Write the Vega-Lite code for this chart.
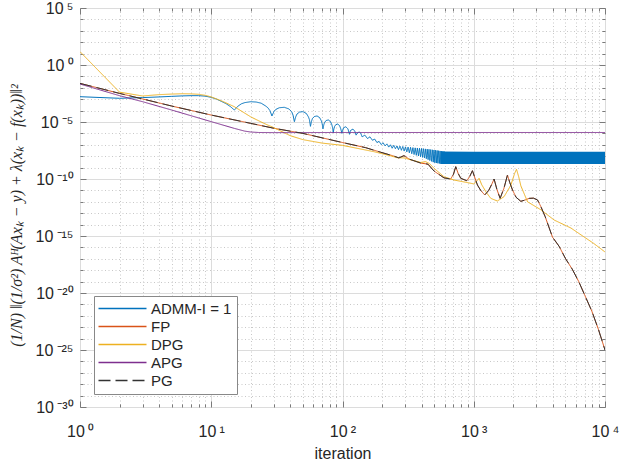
{
  "$schema": "https://vega.github.io/schema/vega-lite/v6.json",
  "width": 525,
  "height": 399,
  "autosize": {"type": "none"},
  "padding": {"left": 80, "top": 8, "right": 15, "bottom": 54},
  "background": "white",
  "config": {
    "font": "Liberation Sans",
    "view": {"stroke": "#7a7a7a", "strokeWidth": 1},
    "axis": {"domain": false, "labelFont": "Liberation Sans", "labelFontSize": 16, "labelColor": "#262626", "titleColor": "#262626", "tickColor": "#7a7a7a"}
  },
  "resolve": {"axis": {"x": "independent", "y": "independent"}},
  "datasets": {
    "band": [
      {"x": 560, "y": 2.6e-8, "lo": 2.1e-9},
      {"x": 1000, "y": 2.51e-8, "lo": 2.09e-9},
      {"x": 10000, "y": 2.51e-8, "lo": 2.09e-9}
    ],
    "lines": [
      {"s":"ADMM","x":1,"y":1.66e-3},{"s":"ADMM","x":2,"y":1.2e-3},{"s":"ADMM","x":3,"y":1.38e-3},{"s":"ADMM","x":4,"y":1.58e-3},
      {"s":"ADMM","x":5,"y":1.78e-3},{"s":"ADMM","x":6,"y":1.95e-3},{"s":"ADMM","x":7,"y":2.04e-3},{"s":"ADMM","x":8,"y":2.04e-3},
      {"s":"ADMM","x":9,"y":1.86e-3},{"s":"ADMM","x":10,"y":1.45e-3},{"s":"ADMM","x":11,"y":1e-3},{"s":"ADMM","x":12,"y":6.31e-4},
      {"s":"ADMM","x":13,"y":3.98e-4},{"s":"ADMM","x":14,"y":2.24e-4},{"s":"ADMM","x":15,"y":1.12e-4},{"s":"ADMM","x":16,"y":2.51e-4},
      {"s":"ADMM","x":17,"y":3.98e-4},{"s":"ADMM","x":18,"y":5.01e-4},{"s":"ADMM","x":20,"y":6.03e-4},{"s":"ADMM","x":22,"y":5.62e-4},
      {"s":"ADMM","x":24,"y":4.47e-4},{"s":"ADMM","x":26,"y":2.51e-4},{"s":"ADMM","x":27,"y":1.78e-4},{"s":"ADMM","x":28,"y":1e-4},
      {"s":"ADMM","x":29,"y":3.39e-5},{"s":"ADMM","x":30,"y":7.94e-5},{"s":"ADMM","x":31,"y":1.26e-4},{"s":"ADMM","x":33,"y":1.78e-4},
      {"s":"ADMM","x":36,"y":1.95e-4},{"s":"ADMM","x":39,"y":1.41e-4},{"s":"ADMM","x":41,"y":7.94e-5},{"s":"ADMM","x":42,"y":3.98e-5},
      {"s":"ADMM","x":43,"y":1.07e-5},{"s":"ADMM","x":44,"y":2.82e-5},{"s":"ADMM","x":45,"y":5.01e-5},{"s":"ADMM","x":47,"y":7.41e-5},
      {"s":"ADMM","x":50,"y":8.13e-5},{"s":"ADMM","x":53,"y":5.62e-5},{"s":"ADMM","x":55,"y":2.82e-5},{"s":"ADMM","x":56,"y":1.58e-5},
      {"s":"ADMM","x":57,"y":4.17e-6},{"s":"ADMM","x":58,"y":1.12e-5},{"s":"ADMM","x":59,"y":2e-5},{"s":"ADMM","x":61,"y":3.02e-5},
      {"s":"ADMM","x":64,"y":3.39e-5},{"s":"ADMM","x":67,"y":2.4e-5},{"s":"ADMM","x":69,"y":1.26e-5},{"s":"ADMM","x":70,"y":7.08e-6},
      {"s":"ADMM","x":71,"y":2.51e-6},{"s":"ADMM","x":72,"y":5.62e-6},{"s":"ADMM","x":73,"y":8.91e-6},{"s":"ADMM","x":75,"y":1.35e-5},
      {"s":"ADMM","x":78,"y":1.51e-5},{"s":"ADMM","x":81,"y":1.07e-5},{"s":"ADMM","x":83,"y":5.62e-6},{"s":"ADMM","x":84,"y":3.16e-6},
      {"s":"ADMM","x":85,"y":1.15e-6},{"s":"ADMM","x":86,"y":2.51e-6},{"s":"ADMM","x":87,"y":3.98e-6},{"s":"ADMM","x":89,"y":5.89e-6},
      {"s":"ADMM","x":92,"y":6.61e-6},{"s":"ADMM","x":95,"y":4.79e-6},{"s":"ADMM","x":97,"y":2.51e-6},{"s":"ADMM","x":99,"y":1e-6},
      {"s":"ADMM","x":100,"y":1.78e-6},{"s":"ADMM","x":102,"y":3.16e-6},{"s":"ADMM","x":106,"y":3.8e-6},{"s":"ADMM","x":110,"y":2.51e-6},
      {"s":"ADMM","x":113,"y":8.32e-7},{"s":"ADMM","x":115,"y":1.78e-6},{"s":"ADMM","x":120,"y":2.4e-6},{"s":"ADMM","x":124,"y":1.58e-6},
      {"s":"ADMM","x":127,"y":7.08e-7},{"s":"ADMM","x":130,"y":1.12e-6},{"s":"ADMM","x":134,"y":1.32e-6},{"s":"ADMM","x":138,"y":1e-6},
      {"s":"ADMM","x":141,"y":5.01e-7},{"s":"ADMM","x":148,"y":7.08e-7},{"s":"ADMM","x":155,"y":3.55e-7},{"s":"ADMM","x":162,"y":5.01e-7},
      {"s":"ADMM","x":169,"y":2.51e-7},{"s":"ADMM","x":176,"y":3.16e-7},{"s":"ADMM","x":183,"y":1.58e-7},{"s":"ADMM","x":190,"y":2e-7},
      {"s":"ADMM","x":197,"y":1.05e-7},{"s":"ADMM","x":204,"y":1.51e-7},{"s":"ADMM","x":211,"y":7.94e-8},{"s":"ADMM","x":218,"y":1.2e-7},
      {"s":"ADMM","x":225,"y":6.31e-8},{"s":"ADMM","x":232,"y":1e-7},{"s":"ADMM","x":239,"y":5.01e-8},{"s":"ADMM","x":246,"y":8.91e-8},
      {"s":"ADMM","x":253,"y":4.47e-8},{"s":"ADMM","x":260,"y":7.94e-8},{"s":"ADMM","x":267,"y":3.8e-8},{"s":"ADMM","x":274,"y":7.59e-8},
      {"s":"ADMM","x":281,"y":3.31e-8},{"s":"ADMM","x":288,"y":7.08e-8},{"s":"ADMM","x":295,"y":2.82e-8},{"s":"ADMM","x":302,"y":6.61e-8},
      {"s":"ADMM","x":309,"y":2.4e-8},{"s":"ADMM","x":316,"y":6.31e-8},{"s":"ADMM","x":323,"y":2e-8},{"s":"ADMM","x":330,"y":6.03e-8},
      {"s":"ADMM","x":337,"y":1.66e-8},{"s":"ADMM","x":344,"y":5.62e-8},{"s":"ADMM","x":351,"y":1.41e-8},{"s":"ADMM","x":358,"y":5.37e-8},
      {"s":"ADMM","x":365,"y":1.2e-8},{"s":"ADMM","x":372,"y":5.25e-8},{"s":"ADMM","x":379,"y":1.05e-8},{"s":"ADMM","x":386,"y":5.01e-8},
      {"s":"ADMM","x":393,"y":9.12e-9},{"s":"ADMM","x":400,"y":4.79e-8},{"s":"ADMM","x":407,"y":7.94e-9},{"s":"ADMM","x":414,"y":4.57e-8},
      {"s":"ADMM","x":421,"y":6.92e-9},{"s":"ADMM","x":428,"y":4.37e-8},{"s":"ADMM","x":435,"y":6.03e-9},{"s":"ADMM","x":442,"y":4.17e-8},
      {"s":"ADMM","x":449,"y":5.01e-9},{"s":"ADMM","x":456,"y":3.98e-8},{"s":"ADMM","x":463,"y":4.17e-9},{"s":"ADMM","x":470,"y":3.8e-8},
      {"s":"ADMM","x":477,"y":3.55e-9},{"s":"ADMM","x":484,"y":3.63e-8},{"s":"ADMM","x":491,"y":3.02e-9},{"s":"ADMM","x":498,"y":3.47e-8},
      {"s":"ADMM","x":505,"y":2.69e-9},{"s":"ADMM","x":512,"y":3.31e-8},{"s":"ADMM","x":519,"y":2.51e-9},{"s":"ADMM","x":526,"y":3.16e-8},
      {"s":"ADMM","x":533,"y":2.4e-9},{"s":"ADMM","x":540,"y":3.02e-8},{"s":"ADMM","x":547,"y":2.29e-9},{"s":"ADMM","x":554,"y":2.88e-8},
      {"s":"ADMM","x":561,"y":2.19e-9},{"s":"ADMM","x":568,"y":2.75e-8},{"s":"ADMM","x":575,"y":2.14e-9},{"s":"ADMM","x":582,"y":2.63e-8},
      {"s":"ADMM","x":589,"y":2.09e-9},{"s":"ADMM","x":596,"y":2.51e-8},{"s":"ADMM","x":603,"y":2.09e-9},

      {"s":"FP","x":1,"y":2.45e-2},{"s":"FP","x":2,"y":3.24e-3},{"s":"FP","x":3,"y":1.05e-3},{"s":"FP","x":5,"y":2.51e-4},
      {"s":"FP","x":10,"y":4.07e-5},{"s":"FP","x":20,"y":7.59e-6},{"s":"FP","x":30,"y":2.82e-6},{"s":"FP","x":50,"y":1e-6},
      {"s":"FP","x":100,"y":1.58e-7},{"s":"FP","x":150,"y":5.62e-8},{"s":"FP","x":195,"y":2.24e-8},{"s":"FP","x":240,"y":1.12e-8},
      {"s":"FP","x":269,"y":7.08e-9},{"s":"FP","x":294,"y":1.12e-8},{"s":"FP","x":321,"y":5.62e-9},{"s":"FP","x":394,"y":2.51e-9},
      {"s":"FP","x":448,"y":2e-9},{"s":"FP","x":498,"y":5.01e-10},{"s":"FP","x":593,"y":1.26e-10},{"s":"FP","x":667,"y":1e-10},
      {"s":"FP","x":700,"y":2.51e-10},{"s":"FP","x":729,"y":1.2e-9},{"s":"FP","x":760,"y":3.16e-10},{"s":"FP","x":796,"y":1.15e-10},
      {"s":"FP","x":885,"y":7.08e-11},{"s":"FP","x":930,"y":1.58e-10},{"s":"FP","x":977,"y":5.37e-10},{"s":"FP","x":1020,"y":1.26e-10},
      {"s":"FP","x":1067,"y":2.95e-11},{"s":"FP","x":1130,"y":1e-11},{"s":"FP","x":1213,"y":3.98e-12},{"s":"FP","x":1300,"y":1e-11},
      {"s":"FP","x":1380,"y":3.98e-11},{"s":"FP","x":1429,"y":1e-10},{"s":"FP","x":1500,"y":1.26e-11},{"s":"FP","x":1588,"y":2e-12},
      {"s":"FP","x":1700,"y":1.58e-11},{"s":"FP","x":1807,"y":2.24e-10},{"s":"FP","x":1880,"y":5.01e-11},{"s":"FP","x":1973,"y":1.1e-11},
      {"s":"FP","x":2100,"y":2.51e-12},{"s":"FP","x":2285,"y":1.1e-12},{"s":"FP","x":2450,"y":1.41e-12},{"s":"FP","x":2644,"y":2e-12},
      {"s":"FP","x":2850,"y":2.09e-12},{"s":"FP","x":3060,"y":1.45e-12},{"s":"FP","x":3240,"y":3.98e-13},{"s":"FP","x":3500,"y":5.01e-14},
      {"s":"FP","x":3981,"y":7.94e-16},{"s":"FP","x":4467,"y":1.26e-16},{"s":"FP","x":5012,"y":1e-17},{"s":"FP","x":5623,"y":1.26e-18},
      {"s":"FP","x":6310,"y":1e-19},{"s":"FP","x":7079,"y":5.01e-21},{"s":"FP","x":7943,"y":2.51e-22},{"s":"FP","x":8913,"y":6.31e-24},
      {"s":"FP","x":10000,"y":1e-25},

      {"s":"DPG","x":1,"y":14.8},{"s":"DPG","x":2,"y":4.17e-3},{"s":"DPG","x":3,"y":1.91e-3},{"s":"DPG","x":4,"y":2.51e-3},
      {"s":"DPG","x":5,"y":2.82e-3},{"s":"DPG","x":6,"y":3.02e-3},{"s":"DPG","x":7,"y":2.95e-3},{"s":"DPG","x":8,"y":2.69e-3},
      {"s":"DPG","x":9,"y":2.19e-3},{"s":"DPG","x":10,"y":1.58e-3},{"s":"DPG","x":12,"y":7.08e-4},{"s":"DPG","x":15,"y":2.19e-4},
      {"s":"DPG","x":20,"y":2.82e-5},{"s":"DPG","x":25,"y":7.94e-6},{"s":"DPG","x":30,"y":3.16e-6},{"s":"DPG","x":40,"y":6.31e-7},
      {"s":"DPG","x":50,"y":2.82e-7},{"s":"DPG","x":70,"y":1.41e-7},{"s":"DPG","x":100,"y":8.91e-8},{"s":"DPG","x":173,"y":2.51e-8},
      {"s":"DPG","x":230,"y":1.12e-8},{"s":"DPG","x":260,"y":7.41e-9},{"s":"DPG","x":294,"y":7.08e-9},{"s":"DPG","x":340,"y":4.47e-9},
      {"s":"DPG","x":394,"y":2.82e-9},{"s":"DPG","x":430,"y":3.31e-9},{"s":"DPG","x":460,"y":2.24e-9},{"s":"DPG","x":498,"y":8.71e-10},
      {"s":"DPG","x":593,"y":1.58e-10},{"s":"DPG","x":707,"y":8.13e-11},{"s":"DPG","x":900,"y":4.79e-11},{"s":"DPG","x":1000,"y":3.72e-11},
      {"s":"DPG","x":1050,"y":6.31e-11},{"s":"DPG","x":1098,"y":1.15e-10},{"s":"DPG","x":1150,"y":3.16e-11},{"s":"DPG","x":1250,"y":6.31e-12},
      {"s":"DPG","x":1349,"y":2e-12},{"s":"DPG","x":1514,"y":1.17e-12},{"s":"DPG","x":1701,"y":2.82e-12},{"s":"DPG","x":1916,"y":2.82e-11},
      {"s":"DPG","x":2050,"y":3.16e-10},{"s":"DPG","x":2117,"y":7.08e-10},{"s":"DPG","x":2200,"y":1.58e-10},{"s":"DPG","x":2285,"y":2.51e-11},
      {"s":"DPG","x":2570,"y":1e-12},{"s":"DPG","x":3244,"y":2e-13},{"s":"DPG","x":4100,"y":2.51e-14},{"s":"DPG","x":5500,"y":5.01e-15},
      {"s":"DPG","x":6560,"y":1.26e-15},{"s":"DPG","x":8200,"y":2.24e-16},{"s":"DPG","x":10000,"y":3.98e-17},

      {"s":"APG","x":1,"y":2.14e-2},{"s":"APG","x":2,"y":2.04e-3},{"s":"APG","x":3,"y":6.03e-4},{"s":"APG","x":5,"y":1.12e-4},
      {"s":"APG","x":10,"y":1.07e-5},{"s":"APG","x":15,"y":2.75e-6},{"s":"APG","x":18,"y":1.58e-6},{"s":"APG","x":20,"y":1.32e-6},
      {"s":"APG","x":23,"y":1.2e-6},{"s":"APG","x":30,"y":1.17e-6},{"s":"APG","x":100,"y":1.2e-6},{"s":"APG","x":1000,"y":1.2e-6},
      {"s":"APG","x":10000,"y":1.2e-6},

      {"s":"PG","x":1,"y":2.45e-2},{"s":"PG","x":2,"y":3.24e-3},{"s":"PG","x":3,"y":1.05e-3},{"s":"PG","x":5,"y":2.51e-4},
      {"s":"PG","x":10,"y":4.07e-5},{"s":"PG","x":20,"y":7.59e-6},{"s":"PG","x":30,"y":2.82e-6},{"s":"PG","x":50,"y":1e-6},
      {"s":"PG","x":100,"y":1.58e-7},{"s":"PG","x":150,"y":5.62e-8},{"s":"PG","x":195,"y":2.24e-8},{"s":"PG","x":240,"y":1.12e-8},
      {"s":"PG","x":269,"y":7.08e-9},{"s":"PG","x":294,"y":1.12e-8},{"s":"PG","x":321,"y":5.62e-9},{"s":"PG","x":394,"y":2.51e-9},
      {"s":"PG","x":448,"y":2e-9},{"s":"PG","x":498,"y":5.01e-10},{"s":"PG","x":593,"y":1.26e-10},{"s":"PG","x":667,"y":1e-10},
      {"s":"PG","x":700,"y":2.51e-10},{"s":"PG","x":729,"y":1.2e-9},{"s":"PG","x":760,"y":3.16e-10},{"s":"PG","x":796,"y":1.15e-10},
      {"s":"PG","x":885,"y":7.08e-11},{"s":"PG","x":930,"y":1.58e-10},{"s":"PG","x":977,"y":5.37e-10},{"s":"PG","x":1020,"y":1.26e-10},
      {"s":"PG","x":1067,"y":2.95e-11},{"s":"PG","x":1130,"y":1e-11},{"s":"PG","x":1213,"y":3.98e-12},{"s":"PG","x":1300,"y":1e-11},
      {"s":"PG","x":1380,"y":3.98e-11},{"s":"PG","x":1429,"y":1e-10},{"s":"PG","x":1500,"y":1.26e-11},{"s":"PG","x":1588,"y":2e-12},
      {"s":"PG","x":1700,"y":1.58e-11},{"s":"PG","x":1807,"y":2.24e-10},{"s":"PG","x":1880,"y":5.01e-11},{"s":"PG","x":1973,"y":1.1e-11},
      {"s":"PG","x":2100,"y":2.51e-12},{"s":"PG","x":2285,"y":1.1e-12},{"s":"PG","x":2450,"y":1.41e-12},{"s":"PG","x":2644,"y":2e-12},
      {"s":"PG","x":2850,"y":2.09e-12},{"s":"PG","x":3060,"y":1.45e-12},{"s":"PG","x":3240,"y":3.98e-13},{"s":"PG","x":3500,"y":5.01e-14},
      {"s":"PG","x":3981,"y":7.94e-16},{"s":"PG","x":4467,"y":1.26e-16},{"s":"PG","x":5012,"y":1e-17},{"s":"PG","x":5623,"y":1.26e-18},
      {"s":"PG","x":6310,"y":1e-19},{"s":"PG","x":7079,"y":5.01e-21},{"s":"PG","x":7943,"y":2.51e-22},{"s":"PG","x":8913,"y":6.31e-24},
      {"s":"PG","x":10000,"y":1e-25}
    ]
  },
  "layer": [
    {
      "data": {"name": "band"},
      "mark": {"type": "area", "color": "#0072BD", "opacity": 1},
      "encoding": {
        "x": {
          "field": "x", "type": "quantitative",
          "scale": {"type": "log", "domain": [1, 10000]},
          "axis": {
            "orient": "bottom",
            "title": "iteration", "titleFont": "Liberation Sans", "titleFontSize": 16, "titleFontWeight": "normal",
            "titleY": 46, "titleBaseline": "middle",
            "values": [1,2,3,4,5,6,7,8,9,10,20,30,40,50,60,70,80,90,100,200,300,400,500,600,700,800,900,1000,2000,3000,4000,5000,6000,7000,8000,9000,10000],
            "labelExpr": "datum.value==1?'10\u2009⁰':datum.value==10?'10\u2009¹':datum.value==100?'10\u2009²':datum.value==1000?'10\u2009³':datum.value==10000?'10\u2009⁴':''",
            "labelFlush": false, "labelOverlap": false, "labelPadding": 22,
            "grid": true,
            "gridColor": {"condition": {"test": "abs(log(datum.value)/LN10 - round(log(datum.value)/LN10)) < 0.001", "value": "#dcdcdc"}, "value": "#c8c8c8"},
            "gridDash": {"condition": {"test": "abs(log(datum.value)/LN10 - round(log(datum.value)/LN10)) < 0.001", "value": []}, "value": [1, 2.5]},
            "ticks": true,
            "tickSize": {"condition": {"test": "abs(log(datum.value)/LN10 - round(log(datum.value)/LN10)) < 0.001", "value": -6}, "value": -3}
          }
        },
        "y": {
          "field": "y", "type": "quantitative",
          "scale": {"type": "log", "domain": [1e-30, 1e5]},
          "axis": {
            "orient": "left",
            "title": "(1/N) ‖(1/σ²) Aᴴ(Axₖ − y) + λ(xₖ − f(xₖ))‖²",
            "titleFont": "Liberation Serif", "titleFontStyle": "italic", "titleFontSize": 16, "titleFontWeight": "normal",
            "titleAngle": -90, "titleX": -64, "titleY": 207, "titleAlign": "center", "titleBaseline": "middle",
            "values": [1e-30,1e-29,1e-28,1e-27,1e-26,1e-25,1e-24,1e-23,1e-22,1e-21,1e-20,1e-19,1e-18,1e-17,1e-16,1e-15,1e-14,1e-13,1e-12,1e-11,1e-10,1e-9,1e-8,1e-7,1e-6,1e-5,1e-4,1e-3,1e-2,1e-1,1,10,100,1000,10000,100000],
            "labelExpr": "datum.value==1e5?'10\u2009⁵':datum.value==1?'10\u2009⁰':datum.value==1e-5?'10\u2009⁻⁵':datum.value==1e-10?'10\u2009⁻¹⁰':datum.value==1e-15?'10\u2009⁻¹⁵':datum.value==1e-20?'10\u2009⁻²⁰':datum.value==1e-25?'10\u2009⁻²⁵':datum.value==1e-30?'10\u2009⁻³⁰':''",
            "labelFlush": false, "labelOverlap": false, "labelPadding": 13,
            "grid": true,
            "gridColor": {"condition": {"test": "round(log(datum.value)/LN10) % 5 == 0", "value": "#dcdcdc"}, "value": "#c8c8c8"},
            "gridDash": {"condition": {"test": "round(log(datum.value)/LN10) % 5 == 0", "value": []}, "value": [1, 2.5]},
            "ticks": true,
            "tickSize": {"condition": {"test": "round(log(datum.value)/LN10) % 5 == 0", "value": -6}, "value": -3}
          }
        },
        "y2": {"field": "lo"}
      }
    },
    {
      "data": {"name": "lines"},
      "mark": {"type": "line", "strokeWidth": 1, "clip": true},
      "encoding": {
        "x": {
          "field": "x", "type": "quantitative",
          "axis": {
            "orient": "top", "title": null, "labels": false, "grid": false, "ticks": true,
            "values": [1,2,3,4,5,6,7,8,9,10,20,30,40,50,60,70,80,90,100,200,300,400,500,600,700,800,900,1000,2000,3000,4000,5000,6000,7000,8000,9000,10000],
            "tickSize": {"condition": {"test": "abs(log(datum.value)/LN10 - round(log(datum.value)/LN10)) < 0.001", "value": -6}, "value": -3}
          }
        },
        "y": {
          "field": "y", "type": "quantitative",
          "axis": {
            "orient": "right", "title": null, "labels": false, "grid": false, "ticks": true,
            "values": [1e-30,1e-29,1e-28,1e-27,1e-26,1e-25,1e-24,1e-23,1e-22,1e-21,1e-20,1e-19,1e-18,1e-17,1e-16,1e-15,1e-14,1e-13,1e-12,1e-11,1e-10,1e-9,1e-8,1e-7,1e-6,1e-5,1e-4,1e-3,1e-2,1e-1,1,10,100,1000,10000,100000],
            "tickSize": {"condition": {"test": "round(log(datum.value)/LN10) % 5 == 0", "value": -6}, "value": -3}
          }
        },
        "color": {
          "field": "s", "type": "nominal",
          "scale": {"domain": ["ADMM", "FP", "DPG", "APG", "PG"], "range": ["#0072BD", "#D95319", "#EDB120", "#7E2F8E", "#333333"]},
          "legend": {
            "title": null, "orient": "none", "legendX": 14, "legendY": 288,
            "symbolType": "M-4,0H4", "symbolSize": 144, "symbolStrokeWidth": 1.3, "symbolOffset": 16, "labelOffset": 21,
            "labelFont": "Liberation Sans", "labelFontSize": 15, "labelColor": "#262626",
            "fillColor": "white", "strokeColor": "#888888", "padding": 5, "rowPadding": 2,
            "labelExpr": "datum.label=='ADMM'?'ADMM-I = 1':datum.label"
          }
        },
        "strokeDash": {
          "field": "s", "type": "nominal",
          "scale": {"domain": ["ADMM", "FP", "DPG", "APG", "PG"], "range": [[1,0],[1,0],[1,0],[1,0],[12,5]]},
          "legend": {
            "title": null, "orient": "none", "legendX": 14, "legendY": 288,
            "symbolType": "M-4,0H4", "symbolSize": 144, "symbolStrokeWidth": 1.3, "symbolOffset": 16, "labelOffset": 21,
            "labelFont": "Liberation Sans", "labelFontSize": 15, "labelColor": "#262626",
            "fillColor": "white", "strokeColor": "#888888", "padding": 5, "rowPadding": 2,
            "labelExpr": "datum.label=='ADMM'?'ADMM-I = 1':datum.label"
          }
        }
      }
    }
  ]
}
